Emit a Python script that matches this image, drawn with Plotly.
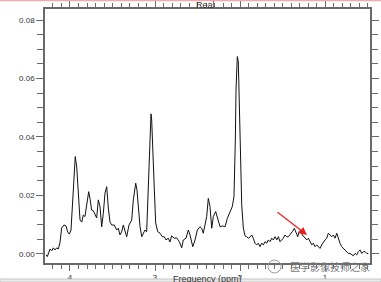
import plotly.graph_objects as go

# Chemical shift (ppm) and signal intensity
ppm = [4.282, 4.267, 4.235, 4.215, 4.196, 4.176, 4.156, 4.138, 4.118, 4.098,
       4.071, 4.047, 4.027, 4.008, 3.988, 3.973, 3.953, 3.938, 3.921, 3.902,
       3.882, 3.862, 3.844, 3.824, 3.804, 3.780, 3.765, 3.745, 3.726, 3.706,
       3.686, 3.667, 3.647, 3.627, 3.608, 3.588, 3.568, 3.549, 3.529, 3.509,
       3.479, 3.451, 3.432, 3.412, 3.392, 3.373, 3.353, 3.333, 3.306, 3.274,
       3.255, 3.227, 3.212, 3.196, 3.176, 3.156, 3.138, 3.118, 3.098, 3.086,
       3.071, 3.055, 3.047, 3.039, 3.027, 3.008, 2.992, 2.968, 2.941, 2.914,
       2.891, 2.871, 2.844, 2.824, 2.804, 2.776, 2.745, 2.714, 2.686, 2.667,
       2.635, 2.608, 2.588, 2.556, 2.529, 2.502, 2.471, 2.451, 2.432, 2.412,
       2.392, 2.373, 2.353, 2.333, 2.314, 2.286, 2.262, 2.235, 2.204, 2.176,
       2.149, 2.118, 2.091, 2.071, 2.062, 2.055, 2.047, 2.032, 2.020, 2.012,
       2.000, 1.988, 1.980, 1.961, 1.941, 1.921, 1.902, 1.882, 1.862, 1.844,
       1.824, 1.804, 1.785, 1.765, 1.745, 1.726, 1.706, 1.686, 1.667, 1.647,
       1.627, 1.608, 1.588, 1.568, 1.549, 1.529, 1.509, 1.491, 1.471, 1.451,
       1.432, 1.412, 1.385, 1.361, 1.341, 1.321, 1.306, 1.286, 1.267, 1.247,
       1.227, 1.215, 1.196, 1.176, 1.156, 1.138, 1.118, 1.098, 1.079, 1.059,
       1.039, 1.020, 1.000, 0.980, 0.961, 0.941, 0.921, 0.902, 0.882, 0.862,
       0.844, 0.824, 0.804, 0.785, 0.765, 0.745, 0.726, 0.706, 0.686, 0.667,
       0.647, 0.627, 0.608, 0.588, 0.568, 0.549, 0.529, 0.509, 0.491]
intensity = [-0.0003, -0.0009, 0.0017, 0.0011, 0.0021, 0.0014, 0.0021, 0.0017, 0.0038, 0.0089,
             0.0099, 0.0096, 0.0075, 0.0068, 0.0082, 0.0161, 0.0277, 0.0333, 0.0298, 0.0185,
             0.0116, 0.0109, 0.0133, 0.0128, 0.0168, 0.0213, 0.0190, 0.0150, 0.0148, 0.0133,
             0.0123, 0.0185, 0.0162, 0.0093, 0.0139, 0.0209, 0.0230, 0.0157, 0.0109, 0.0099,
             0.0099, 0.0082, 0.0088, 0.0065, 0.0076, 0.0099, 0.0082, 0.0059, 0.0099, 0.0116,
             0.0185, 0.0242, 0.0219, 0.0162, 0.0093, 0.0059, 0.0071, 0.0082, 0.0076, 0.0162,
             0.0287, 0.0390, 0.0479, 0.0458, 0.0333, 0.0219, 0.0106, 0.0076, 0.0071, 0.0059,
             0.0059, 0.0048, 0.0054, 0.0041, 0.0062, 0.0054, 0.0055, 0.0042, 0.0021, 0.0048,
             0.0054, 0.0082, 0.0065, 0.0025, 0.0048, 0.0082, 0.0093, 0.0088, 0.0071, 0.0105,
             0.0128, 0.0190, 0.0162, 0.0088, 0.0128, 0.0145, 0.0116, 0.0093, 0.0096, 0.0093,
             0.0122, 0.0145, 0.0162, 0.0196, 0.0277, 0.0390, 0.0561, 0.0675, 0.0657, 0.0561,
             0.0367, 0.0236, 0.0168, 0.0089, 0.0062, 0.0059, 0.0054, 0.0058, 0.0065, 0.0054,
             0.0037, 0.0031, 0.0037, 0.0025, 0.0037, 0.0031, 0.0042, 0.0037, 0.0048, 0.0042,
             0.0054, 0.0048, 0.0059, 0.0048, 0.0059, 0.0042, 0.0048, 0.0054, 0.0065, 0.0059,
             0.0059, 0.0065, 0.0076, 0.0088, 0.0076, 0.0059, 0.0076, 0.0082, 0.0065, 0.0059,
             0.0054, 0.0048, 0.0054, 0.0042, 0.0031, 0.0037, 0.0025, 0.0031, 0.0025, 0.0019,
             0.0031, 0.0042, 0.0048, 0.0054, 0.0071, 0.0065, 0.0059, 0.0065, 0.0054, 0.0071,
             0.0054, 0.0037, 0.0025, 0.0019, 0.0014, 0.0008, 0.0002, 0.0002, -0.0003, -0.0006,
             0.0002, -0.0003, 0.0008, 0.0014, 0.0002, 0.0008, 0.0008, 0.0002, 0.0002]

y_tick_step = 0.02
x_tick_step = 1

W, H = 381, 282
L, R, T, B = 45, 11, 9, 19
pw, ph = W - L - R, H - T - B

def px(x):
    return (x - L) / pw

def py(y):
    return (H - B - y) / ph

fig = go.Figure()
fig.add_trace(go.Scatter(x=ppm, y=intensity, mode="lines",
                         line=dict(color="#111111", width=1), hoverinfo="skip"))

axis_common = dict(
    showline=True, linecolor="#6a6a6a", linewidth=1.5, mirror="ticks",
    ticks="outside", tickcolor="#6a6a6a", tickwidth=1,
    showgrid=False, zeroline=False, automargin=False,
    tickfont=dict(family="Liberation Sans", size=8, color="#333333"),
)

fig.update_layout(
    width=W, height=H,
    margin=dict(l=L, r=R, t=T, b=B, pad=0, autoexpand=False),
    paper_bgcolor="white", plot_bgcolor="white",
    showlegend=False,
    xaxis=dict(range=[4.294, 0.471], tickmode="linear", tick0=0, dtick=x_tick_step,
               tickformat="d", ticklen=6,
               minor=dict(dtick=0.1, tick0=0, ticks="outside", ticklen=4,
                          tickcolor="#6a6a6a", tickwidth=1, showgrid=False),
               **axis_common),
    yaxis=dict(range=[-0.00308, 0.08376], tickmode="linear", tick0=0, dtick=y_tick_step,
               tickformat=".2f", ticklen=7,
               minor=dict(dtick=0.005, tick0=0, ticks="outside", ticklen=6,
                          tickcolor="#6a6a6a", tickwidth=1, showgrid=False),
               **axis_common),
)

# title "Real"
fig.add_annotation(text="Real", xref="paper", yref="paper", x=px(205), y=py(5),
                   xanchor="center", yanchor="middle",
                   showarrow=False, font=dict(family="Liberation Sans", size=9, color="#333333"))
# x-axis title (cut at the bottom)
fig.add_annotation(text="Frequency (ppm)", xref="paper", yref="paper", x=px(207), y=py(272),
                   xanchor="center", yanchor="top", showarrow=False,
                   font=dict(family="Liberation Sans", size=9, color="#333333"))
# red arrow
fig.add_annotation(x=1.212, y=0.0065, ax=1.576, ay=0.0147, xref="x", yref="y",
                   axref="x", ayref="y", showarrow=True, arrowhead=2, arrowsize=1.3,
                   arrowwidth=1.2, arrowcolor="#e8201c", text="")
# watermark
fig.add_annotation(text="医学影像技师之家", xref="paper", yref="paper", x=px(330), y=py(266),
                   xanchor="center", yanchor="middle", showarrow=False,
                   font=dict(family="Noto Sans CJK SC", size=10, color="#7a7a7a"))
fig.add_shape(type="circle", xref="paper", yref="paper",
              x0=px(268), x1=px(281), y0=py(273), y1=py(260),
              line=dict(color="#9a9a9a", width=1))
# screenshot borders
fig.add_shape(type="line", xref="paper", yref="paper", x0=px(0), x1=px(W), y0=py(0.5), y1=py(0.5),
              line=dict(color="#f2a8a8", width=1.5))
fig.add_shape(type="rect", xref="paper", yref="paper", x0=px(0), x1=px(W), y0=py(282), y1=py(279),
              fillcolor="#ececec", line=dict(color="#c4c4c4", width=1))

fig.write_html("out.html")
